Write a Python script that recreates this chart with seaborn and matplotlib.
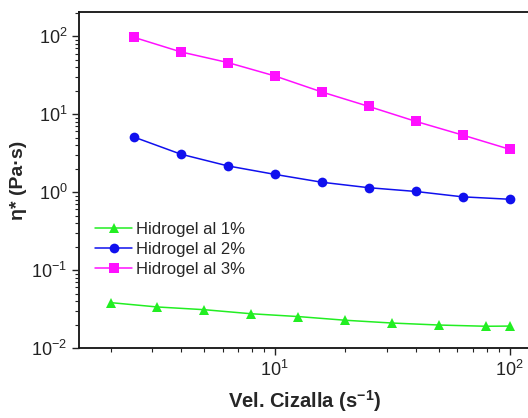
import matplotlib
matplotlib.use("Agg")
import matplotlib.pyplot as plt
import seaborn as sns
import pandas as pd

# shear rates (s^-1)
shear_1 = [2.0, 3.16, 5.01, 7.94, 12.6, 19.95, 31.6, 50.1, 79.4, 100.0]
shear_23 = [2.51, 3.98, 6.31, 10.0, 15.85, 25.1, 39.8, 63.1, 100.0]

# complex viscosity (Pa·s)
eta_1 = [0.0382, 0.0336, 0.031, 0.0275, 0.0253, 0.0227, 0.0209, 0.0197, 0.019, 0.0191]
eta_2 = [5.1, 3.07, 2.17, 1.69, 1.34, 1.14, 1.02, 0.87, 0.81]
eta_3 = [97, 63, 46, 31, 19.3, 12.6, 8.1, 5.4, 3.55]

labels = ["Hidrogel al 1%", "Hidrogel al 2%", "Hidrogel al 3%"]
colors = ["#22ee22", "#1010ee", "#ff10ff"]
markers = ["^", "o", "s"]

df = pd.concat([
    pd.DataFrame({"x": shear_1, "y": eta_1, "serie": labels[0]}),
    pd.DataFrame({"x": shear_23, "y": eta_2, "serie": labels[1]}),
    pd.DataFrame({"x": shear_23, "y": eta_3, "serie": labels[2]}),
], ignore_index=True)

sns.set_style("ticks")
plt.rcParams["font.family"] = ["Liberation Sans", "DejaVu Sans"]
plt.rcParams["mathtext.fontset"] = "custom"
plt.rcParams["mathtext.rm"] = "Liberation Sans"
plt.rcParams["mathtext.bf"] = "Liberation Sans:bold"
plt.rcParams["mathtext.default"] = "regular"
plt.rcParams.update({
    "axes.axisbelow": False,
    "xtick.major.size": 5, "ytick.major.size": 5,
    "xtick.major.width": 1, "ytick.major.width": 1,
    "xtick.minor.size": 3, "ytick.minor.size": 3,
    "xtick.minor.width": 0.8, "ytick.minor.width": 0.8,
    "xtick.color": "#222222", "ytick.color": "#222222",
    "xtick.direction": "out", "ytick.direction": "out",
})

fig = plt.figure(figsize=(5.28, 4.18), dpi=100)
ax = fig.add_axes([0.150, 0.1675, 0.855, 0.8035])

sns.lineplot(data=df, x="x", y="y", hue="serie", style="serie",
             palette=dict(zip(labels, colors)),
             markers=dict(zip(labels, markers)), dashes=False,
             markersize=7, markeredgewidth=0, linewidth=1.1, ax=ax)

ax.set_xscale("log")
ax.set_yscale("log")
ax.set_xlim(1.47, 123)
ax.set_ylim(0.01, 204)
ax.tick_params(axis="both", which="major", labelsize=13)

for s in ["left", "bottom", "top"]:
    ax.spines[s].set_linewidth(1.3)
    ax.spines[s].set_color("#111111")
ax.spines["right"].set_visible(False)

ax.set_xlabel("Vel. Cizalla (s$^{\\mathbf{-1}}$)", fontsize=14.5, fontweight="bold", labelpad=6)
ax.set_ylabel("η* (Pa·s)", fontsize=14, fontweight="bold", labelpad=3)

ax.legend(title=None, frameon=False, loc="upper left", bbox_to_anchor=(0.01, 0.41),
          fontsize=12, handlelength=2.2, handletextpad=0.25, labelspacing=0.3, borderaxespad=0.3)

fig.savefig("out.png", dpi=100)
